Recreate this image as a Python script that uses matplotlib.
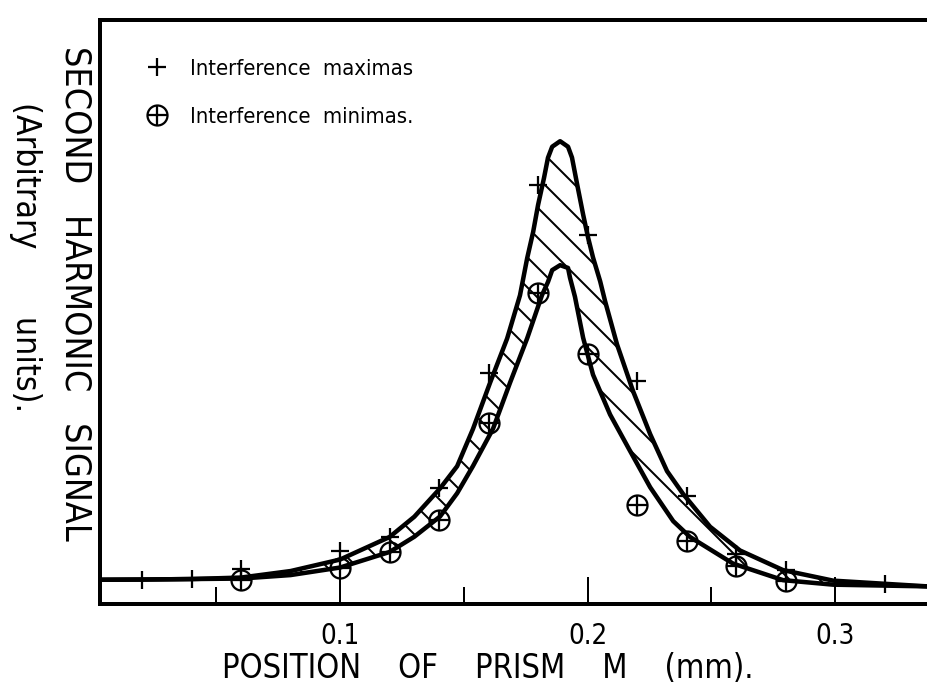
import numpy as np
import matplotlib
matplotlib.use("Agg")
import matplotlib.pyplot as plt

# ---------------- data ----------------
pts_x = [0.06, 0.10, 0.12, 0.14, 0.16, 0.18, 0.20, 0.22, 0.24, 0.26, 0.28]
maxima_y = [0.63, 0.97, 1.21, 2.10, 4.19, 7.60, 6.69, 4.04, 1.96, 0.91, 0.61]
minima_y = [0.43, 0.66, 0.94, 1.53, 3.29, 5.64, 4.54, 1.80, 1.14, 0.69, 0.41]

upper_x = [0.003, 0.020, 0.040, 0.060, 0.080, 0.100, 0.120, 0.130, 0.1404, 0.1473,
           0.1537, 0.1606, 0.1675, 0.1727, 0.1756, 0.1780, 0.1800, 0.1824, 0.1840,
           0.1857, 0.1889, 0.1921, 0.1937, 0.1958, 0.1982, 0.2002, 0.2022, 0.2051,
           0.2071, 0.2119, 0.2184, 0.2253, 0.2321, 0.2386, 0.2495, 0.2616, 0.2790,
           0.2992, 0.3372, 0.345]
upper_y = [0.44, 0.444, 0.453, 0.48, 0.598, 0.807, 1.216, 1.584, 2.098, 2.501,
           3.177, 4.016, 4.819, 5.604, 6.278, 6.751, 7.243, 7.735, 8.100,
           8.300, 8.400, 8.300, 8.104, 7.614, 7.070, 6.652, 6.290, 5.855,
           5.492, 4.712, 3.861, 3.082, 2.412, 1.997, 1.402, 0.971, 0.615,
           0.424, 0.32, 0.31]

lower_x = [0.003, 0.020, 0.040, 0.060, 0.080, 0.100, 0.120, 0.130, 0.1404, 0.1473,
           0.1537, 0.1618, 0.1687, 0.1756, 0.1816, 0.1840, 0.1857, 0.1889, 0.1921,
           0.1929, 0.1949, 0.1982, 0.2022, 0.2091, 0.2172, 0.2253, 0.2346, 0.2414,
           0.2588, 0.2790, 0.2992, 0.3372, 0.345]
lower_y = [0.44, 0.444, 0.453, 0.462, 0.525, 0.662, 0.944, 1.221, 1.589, 2.010,
           2.504, 3.181, 4.020, 4.823, 5.608, 5.845, 6.060, 6.150, 6.100,
           5.922, 5.577, 4.833, 4.162, 3.438, 2.775, 2.118, 1.504, 1.216,
           0.733, 0.433, 0.351, 0.32, 0.31]

baseline_ticks_x = [0.02, 0.04, 0.32]

major_ticks = [0.1, 0.2, 0.3]
major_labels = ["0.1", "0.2", "0.3"]
minor_ticks = [0.05, 0.15, 0.25]

xlabel = "POSITION    OF    PRISM    M    (mm)."
ylabel1 = "SECOND   HARMONIC   SIGNAL"
ylabel2 = "(Arbitrary       units)."
legend_labels = ["Interference  maximas", "Interference  minimas."]

# ---------------- figure ----------------
DPI = 180
W, H = 927, 692
plt.rcParams["font.family"] = ["DejaVu Sans"]
plt.rcParams["font.stretch"] = "condensed"
plt.rcParams["hatch.linewidth"] = 0.8
fig = plt.figure(figsize=(W / DPI, H / DPI), dpi=DPI, facecolor="white")

ax_left, ax_right, ax_bottom, ax_top = 100, 940, 604, 20
ax = fig.add_axes([ax_left / W, (H - ax_bottom) / H,
                   (ax_right - ax_left) / W, (ax_bottom - ax_top) / H])
ax.set_xlim(0.003, 0.003 + (ax_right - ax_left) / 2475)
ax.set_ylim(0, 10.6)

for s in ["top", "left", "bottom"]:
    ax.spines[s].set_linewidth(1.6)
ax.spines["right"].set_visible(False)

ux, uy = np.array(upper_x), np.array(upper_y)
lx, ly = np.array(lower_x), np.array(lower_y)

ax.fill(np.concatenate([ux, lx[::-1]]), np.concatenate([uy, ly[::-1]]),
        facecolor="none", edgecolor="black", hatch="\\\\", linewidth=0)
ax.plot(ux, uy, color="black", lw=1.8, solid_capstyle="round", solid_joinstyle="round")
ax.plot(lx, ly, color="black", lw=1.8, solid_capstyle="round", solid_joinstyle="round")

bt = np.array(baseline_ticks_x)
ax.plot(bt, np.interp(bt, ux, uy), linestyle="none", marker="|",
        markersize=7.5, markeredgewidth=0.9, color="black")

h_max, = ax.plot(pts_x, maxima_y, linestyle="none", marker="+", markersize=7,
                 markeredgewidth=0.9, color="black")
h_min_o, = ax.plot(pts_x, minima_y, linestyle="none", marker="o", markersize=8,
                   markerfacecolor="none", markeredgewidth=0.9, color="black")
h_min_p, = ax.plot(pts_x, minima_y, linestyle="none", marker="+", markersize=8,
                   markeredgewidth=0.9, color="black")

ax.set_xticks(major_ticks)
ax.set_xticklabels(major_labels)
ax.set_xticks(minor_ticks, minor=True)
ax.set_yticks([])
ax.tick_params(axis="x", which="major", direction="in", length=11, width=0.8,
               pad=7, labelsize=11)
ax.tick_params(axis="x", which="minor", direction="in", length=7, width=0.8)

ax.legend([h_max, (h_min_o, h_min_p)], legend_labels, loc="upper left",
          bbox_to_anchor=(0.056, 0.934), frameon=False, fontsize=8.8,
          handlelength=0.9, handletextpad=1.05, labelspacing=1.3,
          borderpad=0, borderaxespad=0)

fig.text(488 / W, 1 - 668 / H, xlabel, ha="center", va="center", fontsize=13)
fig.text(75 / W, 1 - 293 / H, ylabel1, ha="center", va="center",
         rotation=-90, fontsize=14.3)
fig.text(25 / W, 1 - 257 / H, ylabel2, ha="center", va="center",
         rotation=-90, fontsize=13.5)

fig.savefig("out.png", dpi=DPI, facecolor="white")
